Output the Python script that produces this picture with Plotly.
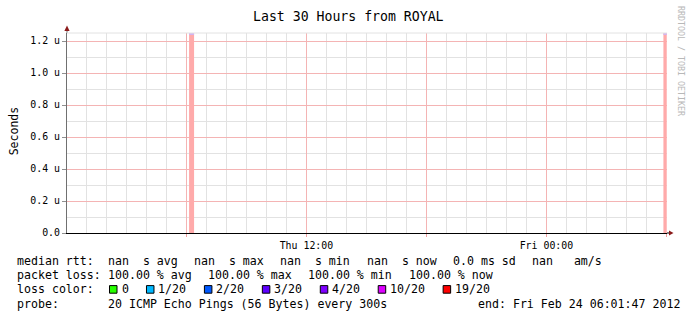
import plotly.graph_objects as go
import pandas as pd

# ---------------- data ----------------
title_text = "Last 30 Hours from ROYAL"
y_label = "Seconds"
watermark = "RRDTOOL / TOBI OETIKER"

time_start = "2012-02-23 00:01:47"
time_end = "2012-02-24 06:01:47"

x_tick_times = ["2012-02-23 06:00", "2012-02-23 12:00", "2012-02-23 18:00",
                "2012-02-24 00:00", "2012-02-24 06:00"]
x_tick_labels = ["", "Thu 12:00", "", "Fri 00:00", ""]

y_tick_values = [0.0, 0.2, 0.4, 0.6, 0.8, 1.0, 1.2]   # microseconds
y_tick_labels = ["0.0", "0.2 u", "0.4 u", "0.6 u", "0.8 u", "1.0 u", "1.2 u"]
y_max = 1.25

# periods with (total) packet loss, drawn as full-height shaded bars
outage_start = ["2012-02-23 06:08:00", "2012-02-24 05:51:00"]
outage_minutes = [15, 10]
outage_height = [1.25, 1.25]

rtt_label = "median rtt:"
rtt_items = ["nan  s avg", "nan  s max", "nan  s min", "nan  s now",
             "0.0 ms sd", "nan   am/s"]
loss_label = "packet loss:"
loss_items = ["100.00 % avg", "100.00 % max", "100.00 % min", "100.00 % now"]
color_label = "loss color:"
loss_labels = ["0", "1/20", "2/20", "3/20", "4/20", "10/20", "19/20"]
loss_colors = ["#26ff00", "#00b8ff", "#0059ff", "#5e00ff", "#7e00ff",
               "#dd00ff", "#ff0000"]
probe_label = "probe:"
probe_text = "20 ICMP Echo Pings (56 Bytes) every 300s"
end_text = "end: Fri Feb 24 06:01:47 2012"

# ---------------- geometry / style ----------------
W, H = 697, 321
L, R, T, B = 67, 667, 33, 233
MONO = "DejaVu Sans Mono"
FS = 11.6
CW = 0.602 * FS
MGRID = "#f4b4b4"
GRID = "#e2e2e2"


def px(x):
    return (x - L) / (R - L)


def py(y):
    return (B - y) / (B - T)


def nb(s):
    return s.replace(" ", "\u00a0")


annotations = []
shapes = []


def ann(text, x, y, size=FS, xanchor="left", angle=0, color="#000000"):
    annotations.append(dict(
        text=nb(text), x=px(x), y=py(y), xref="paper", yref="paper",
        xanchor=xanchor, yanchor="middle", showarrow=False, textangle=angle,
        borderpad=0, font=dict(family=MONO, size=size, color=color)))


fig = go.Figure()

starts = pd.to_datetime(outage_start)
centers = [s + pd.Timedelta(minutes=m / 2) for s, m in zip(starts, outage_minutes)]
widths = [m * 60000 for m in outage_minutes]
fig.add_trace(go.Bar(x=centers, y=outage_height, width=widths,
                     marker=dict(color="#ffaaaa", line=dict(width=0)),
                     hoverinfo="skip", showlegend=False))
strip = 0.0065
fig.add_trace(go.Bar(x=centers, y=[strip] * len(centers),
                     base=[h - strip for h in outage_height], width=widths,
                     marker=dict(color="#d2b4f0", line=dict(width=0)),
                     hoverinfo="skip", showlegend=False))

# title, axis title, watermark
ann(title_text, 348.5, 16.4, size=13.2, xanchor="center")
ann(y_label, 14.3, 131, size=11.5, xanchor="center", angle=-90)
ann(watermark, 681, 61, size=8.3, xanchor="center", angle=90, color="#b8b8b8")

# legend text lines
lines_y = [261 + 14.2 * i for i in range(4)]
x0 = 16.0
item_x = x0 + 13 * CW
gap = 16.5

ann(rtt_label, x0, lines_y[0])
x = item_x
for it in rtt_items:
    ann(it, x, lines_y[0])
    x += len(it) * CW + gap

ann(loss_label, x0, lines_y[1])
x = item_x
for it in loss_items:
    ann(it, x, lines_y[1])
    x += len(it) * CW + gap

ann(color_label, x0, lines_y[2])
bx = 109
for lab, col in zip(loss_labels, loss_colors):
    shapes.append(dict(type="rect", xref="paper", yref="paper",
                       x0=px(bx + 0.5), x1=px(bx + 8.0),
                       y0=py(lines_y[2] - 3.8), y1=py(lines_y[2] + 3.8),
                       fillcolor=col, line=dict(color="#000000", width=1)))
    ann(lab, bx + 11.5, lines_y[2])
    bx += 10 + len(lab) * CW + 20

ann(probe_label, x0, lines_y[3])
ann(probe_text, item_x, lines_y[3])
ann(end_text, 681, lines_y[3], xanchor="right")

# axis arrows and extensions
shapes.append(dict(type="line", xref="paper", yref="paper", x0=px(L), x1=px(L),
                   y0=py(T), y1=py(28), line=dict(color="#707070", width=1)))
shapes.append(dict(type="path", xref="paper", yref="paper",
                   path=f"M {px(L)} {py(25.5)} L {px(L-2.6)} {py(31)} L {px(L+2.6)} {py(31)} Z",
                   fillcolor="#8b1a1a", line=dict(width=0)))
shapes.append(dict(type="line", xref="paper", yref="paper", x0=px(R), x1=px(669.5),
                   y0=0, y1=0, line=dict(color="#000000", width=1)))
shapes.append(dict(type="path", xref="paper", yref="paper",
                   path=f"M {px(673.5)} {py(B)} L {px(669)} {py(B-2.6)} L {px(669)} {py(B+2.6)} Z",
                   fillcolor="#8b1a1a", line=dict(width=0)))
shapes.append(dict(type="line", xref="paper", yref="paper", x0=0, x1=1,
                   y0=1, y1=1, line=dict(color=GRID, width=1)))

fig.update_layout(
    width=W, height=H,
    margin=dict(l=L, r=W - R, t=T, b=H - B, pad=0),
    paper_bgcolor="#ffffff", plot_bgcolor="#ffffff",
    barmode="overlay", showlegend=False, hovermode=False,
    annotations=annotations, shapes=shapes,
    font=dict(family=MONO, size=9.9, color="#000000"),
    xaxis=dict(
        type="date", range=[time_start, time_end],
        tickmode="array", tickvals=x_tick_times, ticktext=x_tick_labels,
        ticks="outside", ticklen=3, tickcolor="#f0a0a0",
        showgrid=True, gridcolor=MGRID, gridwidth=1,
        minor=dict(tickmode="linear", tick0="2012-02-23 00:00", dtick=3600000,
                   showgrid=True, gridcolor=GRID, gridwidth=1, ticks=""),
        showline=True, linecolor="#000000", linewidth=1,
        zeroline=False, tickfont=dict(family=MONO, size=9.9, color="#000000"),
        fixedrange=True,
    ),
    yaxis=dict(
        range=[0, y_max],
        tickmode="array", tickvals=y_tick_values, ticktext=y_tick_labels,
        ticks="outside", ticklen=4, tickcolor="#909090",
        showgrid=True, gridcolor=MGRID, gridwidth=1,
        minor=dict(tickmode="linear", tick0=0, dtick=0.1,
                   showgrid=True, gridcolor=GRID, gridwidth=1, ticks=""),
        showline=True, linecolor="#707070", linewidth=1,
        zeroline=False, tickfont=dict(family=MONO, size=9.9, color="#000000"),
        fixedrange=True,
    ),
)

fig.write_html("out.html", config={"displayModeBar": False})
